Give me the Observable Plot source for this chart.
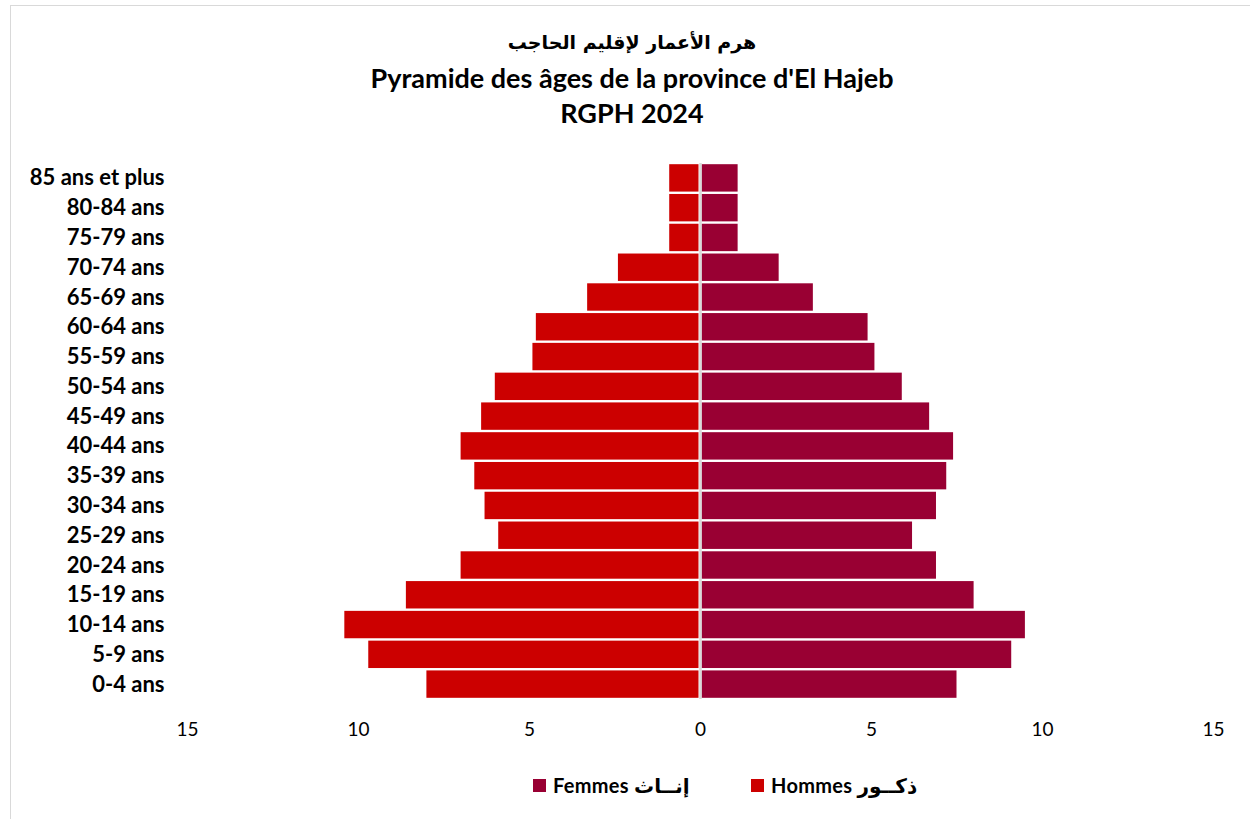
<!DOCTYPE html>
<html><head><meta charset="utf-8">
<script src="https://cdn.jsdelivr.net/npm/d3@7"></script>
<script src="https://cdn.jsdelivr.net/npm/@observablehq/plot@0.6"></script>
<style>
body{margin:0;background:#fff;overflow:hidden;width:1250px;height:819px;position:relative;font-family:Lato,"DejaVu Sans",sans-serif;}
#frame{position:absolute;left:10px;top:5px;width:1260px;height:840px;border:1px solid #d9d9d9;box-sizing:border-box;}
#title{position:absolute;left:14px;width:1236px;top:24px;text-align:center;font-weight:bold;color:#000;}
#title .ar{font-family:"DejaVu Sans",sans-serif;font-size:19px;line-height:36px;}
#title .fr{font-size:27px;line-height:35px;}
#chart{position:absolute;left:0;top:150px;}
#legend{position:absolute;top:773px;left:533px;font-weight:bold;font-size:20px;letter-spacing:0.3px;color:#000;white-space:nowrap;}
#legend .item{position:absolute;top:0;display:flex;align-items:center;height:24px;}
#legend .sw{display:inline-block;width:13px;height:13px;margin-right:7px;}
g[aria-label="y-axis tick label"] text{font-weight:bold;font-size:22px;}
g[aria-label="x-axis tick label"] text{font-size:19px;}
</style></head><body>
<div id="frame"></div>
<div id="title">
  <div class="ar">هرم الأعمار لإقليم الحاجب</div>
  <div class="fr">Pyramide des âges de la province d'El Hajeb</div>
  <div class="fr">RGPH 2024</div>
</div>
<div id="chart"></div>
<div id="legend">
  <div class="item" style="left:0"><span class="sw" style="background:#990033"></span>Femmes إنــاث</div>
  <div class="item" style="left:218px"><span class="sw" style="background:#cc0000"></span>Hommes ذكــور</div>
</div>
<script>
const ageGroups = ["0-4 ans","5-9 ans","10-14 ans","15-19 ans","20-24 ans","25-29 ans","30-34 ans","35-39 ans","40-44 ans","45-49 ans","50-54 ans","55-59 ans","60-64 ans","65-69 ans","70-74 ans","75-79 ans","80-84 ans","85 ans et plus"];
const hommes = [8.0,9.7,10.4,8.6,7.0,5.9,6.3,6.6,7.0,6.4,6.0,4.9,4.8,3.3,2.4,0.9,0.9,0.9];
const femmes = [7.5,9.1,9.5,8.0,6.9,6.2,6.9,7.2,7.4,6.7,5.9,5.1,4.9,3.3,2.3,1.1,1.1,1.1];
const xTicks = [-15,-10,-5,0,5,10,15];
const colorHommes = "#cc0000";
const colorFemmes = "#990033";

const dataH = ageGroups.map((a,i)=>({age:a, v:hommes[i]}));
const dataF = ageGroups.map((a,i)=>({age:a, v:femmes[i]}));

const chart = Plot.plot({
  width: 1250,
  height: 600,
  marginLeft: 187,
  marginRight: 37,
  marginTop: 13,
  marginBottom: 51,
  style: {fontFamily: "Lato, 'DejaVu Sans', sans-serif", color: "#000", background: "transparent"},
  x: {domain: [-15, 15], label: null},
  y: {domain: ageGroups.slice().reverse(), paddingInner: 0.08, paddingOuter: 0.04, round: false, label: null},
  marks: [
    Plot.barX(dataH, {y: "age", x1: 0, x2: d => -d.v, fill: colorHommes, insetRight: 1.5}),
    Plot.barX(dataF, {y: "age", x1: 0, x2: "v", fill: colorFemmes, insetLeft: 1.5}),
    Plot.ruleX([0], {stroke: "#d9d9d9", strokeWidth: 2.5}),
    Plot.axisX({ticks: xTicks, tickSize: 0, tickPadding: 23, tickFormat: d => Math.abs(d), label: null}),
    Plot.axisY({tickSize: 0, tickPadding: 23, label: null})
  ]
});
document.getElementById("chart").appendChild(chart);
</script>
</body></html>
